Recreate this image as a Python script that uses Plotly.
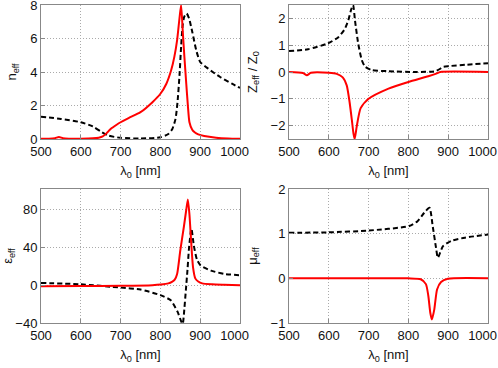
import plotly.graph_objects as go
from plotly.subplots import make_subplots

# n_eff
lam_n_red = [500, 520, 535, 545, 555, 570, 600, 630, 645, 655, 665, 675, 690, 700, 720, 750, 780, 800,
             815, 827, 835, 842, 847, 852, 856, 860, 865, 869, 873, 880, 886, 895, 910, 940, 970, 1000]
n_red = [0.02, 0.02, 0.05, 0.12, 0.05, 0.02, 0.02, 0.04, 0.08, 0.15, 0.35, 0.6, 0.85, 1.0, 1.25, 1.6, 2.2, 2.7,
         3.3, 4.1, 4.9, 5.9, 7.0, 8.0, 6.5, 5.0, 3.3, 2.0, 1.0, 0.55, 0.4, 0.28, 0.18, 0.08, 0.03, 0.01]
lam_n_blk = [500, 550, 600, 630, 650, 670, 700, 750, 800, 820, 830, 838, 843, 848, 852, 856, 860, 866,
             872, 880, 890, 900, 920, 950, 980, 1000]
n_blk = [1.33, 1.2, 1.0, 0.75, 0.45, 0.2, 0.07, 0.03, 0.1, 0.3, 0.6, 1.2, 2.2, 3.8, 5.5, 6.8, 7.3, 7.5,
         7.2, 6.4, 5.3, 4.6, 4.2, 3.7, 3.3, 3.05]

# Z_eff / Z_0
lam_z_blk = [500, 548, 598, 624, 640, 649, 657, 661, 666, 674, 683, 691, 708, 750, 818, 868, 880, 886, 902, 944, 1000]
z_blk = [0.78, 0.85, 1.07, 1.3, 1.6, 1.93, 2.37, 2.5, 1.9, 1.05, 0.44, 0.2, 0.07, 0.03, 0.0, 0.03, 0.12, 0.19, 0.22, 0.27, 0.33]
lam_z_red = [500, 535, 545, 555, 600, 620, 635, 645, 652, 658, 662, 665, 670, 680, 700, 750, 800, 850, 870, 880, 1000]
z_red = [0.0, -0.04, -0.12, -0.03, -0.03, -0.07, -0.2, -0.5, -1.1, -1.8, -2.3, -2.5, -2.05, -1.35, -1.0,
         -0.62, -0.37, -0.16, -0.06, 0.0, 0.0]

# eps_eff
lam_e_red = [500, 600, 700, 780, 801, 820, 829, 836, 842, 850, 859, 865, 869, 873, 876, 882, 888, 895, 905, 930, 960, 1000]
e_red = [-1, -0.8, -0.6, 0, 0.7, 2, 3.6, 6, 12, 37, 62, 80, 91, 75, 55, 19, 7, 4, 2, 1, 0.5, 0]
lam_e_blk = [500, 600, 700, 750, 800, 826, 843, 852, 856, 860, 864, 868, 872, 878, 884, 892, 901, 927, 961, 1000]
e_blk = [2.5, 1, -2.5, -4.6, -10.5, -16, -28, -38, -41, -26, -5, 16, 40, 60, 42, 27, 21, 15.5, 12, 10.6]

# mu_eff
lam_m_blk = [500, 600, 700, 802, 823, 840, 853, 861, 870, 874, 887, 908, 942, 1000]
m_blk = [1.02, 1.03, 1.07, 1.17, 1.28, 1.47, 1.58, 1.17, 0.65, 0.46, 0.72, 0.84, 0.91, 0.98]
lam_m_red = [500, 700, 800, 831, 844, 850, 855, 859, 865, 872, 882, 899, 1000]
m_red = [0, 0, 0, -0.02, -0.13, -0.39, -0.77, -0.92, -0.7, -0.25, -0.08, -0.01, 0]

x_ticks = [500, 600, 700, 800, 900, 1000]
x_ticktext = ["500", "600", "700", "800", "900", "1000\u00a0\u00a0\u00a0"]

panels = [
    (lam_n_blk, n_blk, lam_n_red, n_red, "n<sub>eff</sub>", [0, 8], [0, 2, 4, 6, 8]),
    (lam_z_blk, z_blk, lam_z_red, z_red, "Z<sub>eff</sub> / Z<sub>0</sub>", [-2.5, 2.5], [-2, -1, 0, 1, 2]),
    (lam_e_blk, e_blk, lam_e_red, e_red, "ε<sub>eff</sub>", [-40, 102], [-40, 0, 40, 80]),
    (lam_m_blk, m_blk, lam_m_red, m_red, "μ<sub>eff</sub>", [-1, 2], [-1, 0, 1, 2]),
]

fig = make_subplots(rows=2, cols=2)
xdom = [[41 / 498, 240 / 498], [289 / 498, 488 / 498]]
ydom = [[229 / 368, 363 / 368], [45 / 368, 179 / 368]]

font = dict(family="Liberation Sans, Arial, sans-serif", size=13, color="#111")
for i, (lb, vb, lr, vr, ytitle, yr, yt) in enumerate(panels):
    row, col = i // 2 + 1, i % 2 + 1
    fig.add_trace(go.Scatter(x=lb, y=vb, mode="lines", line=dict(color="black", width=2, dash="5px,3px",
                                                                   shape="spline", smoothing=0.6)),
                  row=row, col=col)
    fig.add_trace(go.Scatter(x=lr, y=vr, mode="lines", line=dict(color="#ff0000", width=2,
                                                                   shape="spline", smoothing=0.6)),
                  row=row, col=col)
    common = dict(showline=True, mirror=True, linecolor="#888", linewidth=1, ticks="inside", ticklen=4,
                  tickcolor="#888", showgrid=True, gridcolor="#aaa", griddash="1px,2px", gridwidth=1,
                  zeroline=False, tickfont=font, automargin=False, ticklabeloverflow="allow")
    fig.update_xaxes(range=[500, 1000], tickvals=x_ticks, ticktext=x_ticktext, domain=xdom[col - 1],
                     title=dict(text="λ<sub>0</sub> [nm]", font=font, standoff=8), row=row, col=col, **common)
    fig.update_yaxes(range=yr, tickvals=yt, domain=ydom[row - 1],
                     title=dict(text=ytitle, font=font, standoff=10), row=row, col=col, **common)

fig.update_layout(width=498, height=368, margin=dict(l=0, r=0, t=0, b=0), showlegend=False,
                  plot_bgcolor="white", paper_bgcolor="white")
fig.write_html("out.html", config={"displayModeBar": False},
               post_script="document.body.style.margin='0';")
